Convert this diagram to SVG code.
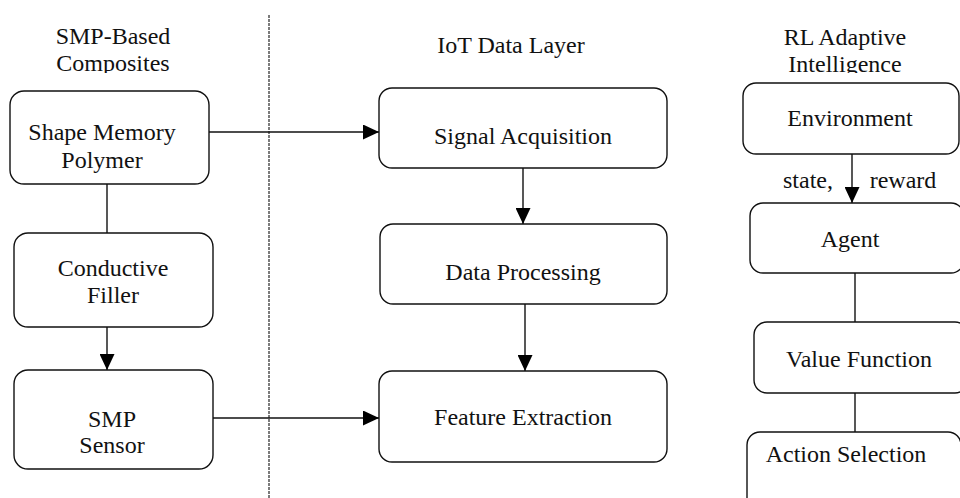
<svg xmlns="http://www.w3.org/2000/svg" width="960" height="498" viewBox="0 0 960 498">
  <style>
    .box { fill: #ffffff; stroke: #111111; stroke-width: 1.4; }
    .lbl { font-family: "Liberation Serif", "Times New Roman", serif; font-size: 24px; fill: #111111; text-anchor: middle; }
    .ttl { font-family: "Liberation Serif", "Times New Roman", serif; font-size: 24px; fill: #111111; text-anchor: middle; }
    .edge { fill: none; stroke: #111111; stroke-width: 1.4; }
    .divider { fill: none; stroke: #444444; stroke-width: 1.4; stroke-dasharray: 3 1; }
  </style>
  <defs>
    <marker id="arrow" markerUnits="userSpaceOnUse" markerWidth="16" markerHeight="15" refX="16" refY="7.5" orient="auto">
      <path d="M0,0 L16,7.5 L0,15 z" fill="#000000"/>
    </marker>
    <clipPath id="titleClip">
      <rect x="0" y="0" width="960" height="73"/>
    </clipPath>
  </defs>

  <rect width="960" height="498" fill="#ffffff"/>

  <!-- column separator -->
  <line class="divider" x1="269" y1="15" x2="269" y2="498"/>

  <!-- column titles -->
  <g id="titles" clip-path="url(#titleClip)">
    <text class="ttl" x="113" y="44">SMP-Based</text>
    <text class="ttl" x="113" y="71">Composites</text>
    <text class="ttl" x="511" y="53">IoT Data Layer</text>
    <text class="ttl" x="845" y="45">RL Adaptive</text>
    <text class="ttl" x="845" y="72">Intelligence</text>
  </g>

  <!-- connectors -->
  <g id="connectors">
    <line class="edge" x1="107" y1="184" x2="107" y2="233"/>
    <line class="edge" x1="107" y1="327" x2="107" y2="370" marker-end="url(#arrow)"/>
    <line class="edge" x1="209" y1="132" x2="379" y2="132" marker-end="url(#arrow)"/>
    <line class="edge" x1="213" y1="418" x2="379" y2="418" marker-end="url(#arrow)"/>
    <line class="edge" x1="523" y1="168" x2="523" y2="224" marker-end="url(#arrow)"/>
    <line class="edge" x1="525" y1="304" x2="525" y2="371" marker-end="url(#arrow)"/>
    <line class="edge" x1="852" y1="154" x2="852" y2="203" marker-end="url(#arrow)"/>
    <line class="edge" x1="855" y1="273" x2="855" y2="322"/>
    <line class="edge" x1="855" y1="393" x2="855" y2="432"/>
    <text class="lbl" x="808" y="188">state,</text>
    <text class="lbl" x="903" y="188">reward</text>
  </g>

  <!-- SMP-based composites column -->
  <g id="shape-memory-polymer">
    <rect class="box" x="10" y="91" width="199" height="93" rx="14"/>
    <text class="lbl" x="102" y="140">Shape Memory</text>
    <text class="lbl" x="102" y="168">Polymer</text>
  </g>
  <g id="conductive-filler">
    <rect class="box" x="14" y="233" width="199" height="94" rx="14"/>
    <text class="lbl" x="113" y="276">Conductive</text>
    <text class="lbl" x="113" y="303">Filler</text>
  </g>
  <g id="smp-sensor">
    <rect class="box" x="14" y="370" width="199" height="99" rx="14"/>
    <text class="lbl" x="112" y="427">SMP</text>
    <text class="lbl" x="112" y="453">Sensor</text>
  </g>

  <!-- IoT data layer column -->
  <g id="signal-acquisition">
    <rect class="box" x="379" y="88" width="288" height="80" rx="13"/>
    <text class="lbl" x="523" y="144">Signal Acquisition</text>
  </g>
  <g id="data-processing">
    <rect class="box" x="380" y="224" width="287" height="80" rx="13"/>
    <text class="lbl" x="523" y="280">Data Processing</text>
  </g>
  <g id="feature-extraction">
    <rect class="box" x="379" y="371" width="288" height="91" rx="13"/>
    <text class="lbl" x="523" y="425">Feature Extraction</text>
  </g>

  <!-- RL adaptive intelligence column -->
  <g id="environment">
    <rect class="box" x="743" y="83" width="216" height="71" rx="13"/>
    <text class="lbl" x="850" y="126">Environment</text>
  </g>
  <g id="agent">
    <rect class="box" x="750" y="203" width="214" height="70" rx="13"/>
    <text class="lbl" x="850" y="247">Agent</text>
  </g>
  <g id="value-function">
    <rect class="box" x="754" y="322" width="214" height="71" rx="13"/>
    <text class="lbl" x="859" y="367">Value Function</text>
  </g>
  <g id="action-selection">
    <rect class="box" x="747" y="432" width="214" height="80" rx="13"/>
    <text class="lbl" x="846" y="462">Action Selection</text>
  </g>
</svg>
